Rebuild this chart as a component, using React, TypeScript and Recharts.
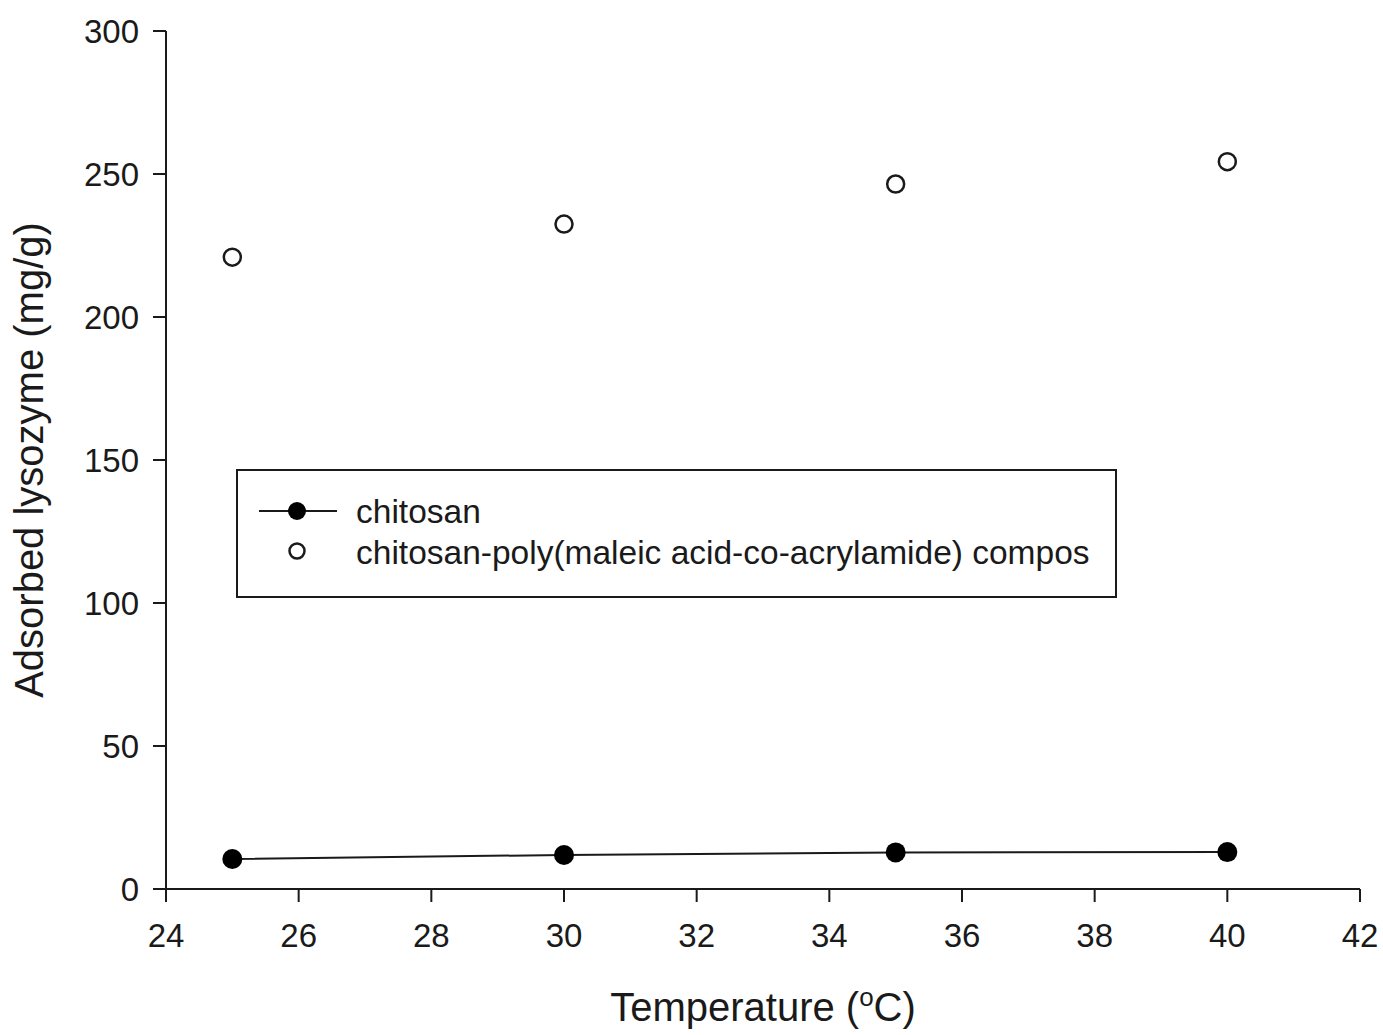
import React from 'react';
import { ComposedChart, Line, XAxis, YAxis, Legend } from 'recharts';

// temperature (°C)
const temps = [25, 30, 35, 40];
// adsorbed lysozyme (mg/g)
const chitosan = [10.5, 11.9, 12.8, 12.9];
const composite = [220.9, 232.5, 246.5, 254.3];

const xTicks = [24, 26, 28, 30, 32, 34, 36, 38, 40, 42];
const yTicks = [0, 50, 100, 150, 200, 250, 300];

const seriesNames = ['chitosan', 'chitosan-poly(maleic acid-co-acrylamide) compos'];

const data = temps.map((t, i) => ({ t, chitosan: chitosan[i], composite: composite[i] }));

const FONT = '"Liberation Sans", Arial, Helvetica, sans-serif';
const INK = '#1a1a1a';

const LegendBox = () => (
  <svg width={881} height={129} style={{ display: 'block' }}>
    <rect x={1} y={1} width={879} height={127} fill="#fff" stroke={INK} strokeWidth={2} />
    <line x1={23} y1={42} x2={101} y2={42} stroke={INK} strokeWidth={2} />
    <circle cx={61} cy={42} r={9} fill="#000" />
    <text x={120} y={54} fontSize={33.5} fontFamily={FONT} fill={INK}>{seriesNames[0]}</text>
    <circle cx={61} cy={82} r={7.5} fill="#fff" stroke={INK} strokeWidth={2.5} />
    <text x={120} y={95} fontSize={33.5} fontFamily={FONT} fill={INK}>{seriesNames[1]}</text>
  </svg>
);

const XTitle = ({ viewBox }: any) => {
  const cx = viewBox.x + viewBox.width / 2;
  return (
    <text x={cx} y={1021} textAnchor="middle" fontSize={40} fontFamily={FONT} fill={INK}>
      Temperature (<tspan dy={-15} fontSize={26}>o</tspan><tspan dy={15}>C)</tspan>
    </text>
  );
};

const YTitle = ({ viewBox }: any) => {
  const cy = viewBox.y + viewBox.height / 2;
  return (
    <text x={43} y={cy} transform={`rotate(-90, 43, ${cy})`} textAnchor="middle" fontSize={40} fontFamily={FONT} fill={INK}>
      Adsorbed lysozyme (mg/g)
    </text>
  );
};

export default function App() {
  const tick = { fontSize: 33, fill: INK, fontFamily: FONT };
  return (
    <div style={{ position: 'absolute', left: 0, top: 0, background: '#fff', fontFamily: FONT }}>
      <ComposedChart width={1383} height={1035} data={data} margin={{ top: 31, right: 23, bottom: 0, left: 0 }}>
        <XAxis
          dataKey="t"
          type="number"
          domain={[24, 42]}
          ticks={xTicks}
          allowDataOverflow
          height={146}
          tick={tick}
          tickSize={13}
          tickMargin={22}
          stroke={INK}
          strokeWidth={2}
          label={<XTitle />}
        />
        <YAxis
          type="number"
          domain={[0, 300]}
          ticks={yTicks}
          allowDataOverflow
          width={166}
          tick={tick}
          tickSize={13}
          tickMargin={14}
          stroke={INK}
          strokeWidth={2}
          label={<YTitle />}
        />
        <Legend
          layout="vertical"
          align="center"
          verticalAlign="middle"
          content={() => <LegendBox />}
          wrapperStyle={{ position: 'absolute', left: 236, top: 469, width: 881, height: 129 }}
        />
        <Line
          dataKey="chitosan"
          name={seriesNames[0]}
          stroke={INK}
          strokeWidth={2}
          dot={{ r: 10, fill: '#000', stroke: '#000', strokeWidth: 0 }}
          activeDot={false}
          isAnimationActive={false}
        />
        <Line
          dataKey="composite"
          name={seriesNames[1]}
          stroke="none"
          dot={{ r: 8.5, fill: '#fff', stroke: INK, strokeWidth: 2.5 }}
          activeDot={false}
          isAnimationActive={false}
        />
      </ComposedChart>
    </div>
  );
}
